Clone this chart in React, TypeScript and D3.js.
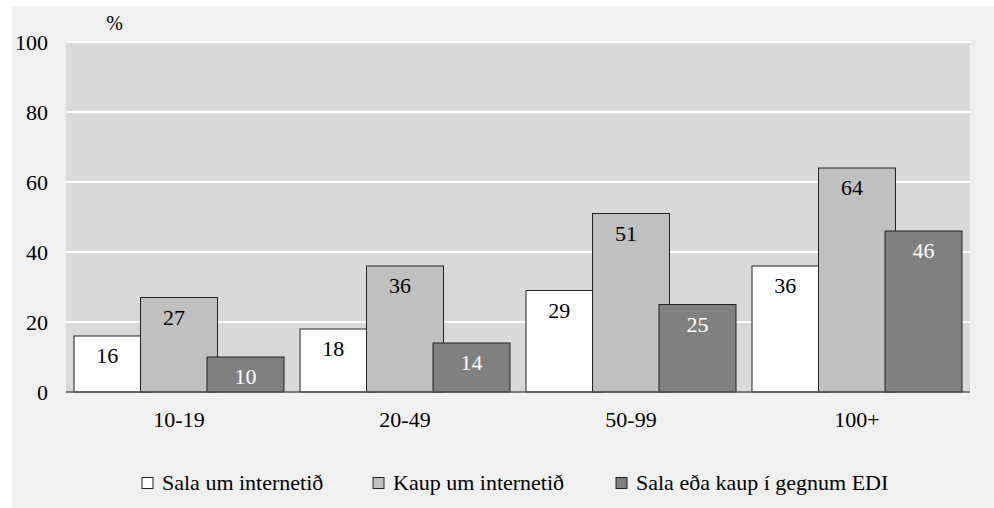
import React from "react";
import * as d3 from "d3";

const categories = ["10-19", "20-49", "50-99", "100+"];
const seriesNames = ["Sala um internetið", "Kaup um internetið", "Sala eða kaup í gegnum EDI"];
const salaInternet = [16, 18, 29, 36];
const kaupInternet = [27, 36, 51, 64];
const ediValues = [10, 14, 25, 46];
const yTicks = [0, 20, 40, 60, 80, 100];

const seriesValues = [salaInternet, kaupInternet, ediValues];
const fills = ["#ffffff", "#c0c0c0", "#808080"];
const labelColors = ["#000000", "#000000", "#ffffff"];

const W = 994;
const H = 508;
const plot = { left: 66, right: 970, top: 42, bottom: 392 };
const ts = { fontFamily: '"Liberation Serif", "Times New Roman", serif' };

export default function App() {
  const x = d3.scaleBand<string>().domain(categories).range([plot.left, plot.right]).paddingInner(0).paddingOuter(0);
  const y = d3.scaleLinear().domain([0, 100]).range([plot.bottom, plot.top]);
  const barW = 77;
  const step = 66.5;
  const groupW = 2 * step + barW;
  const legendX = [142, 373, 616];

  return (
    <svg width={W} height={H} style={{ position: "absolute", left: 0, top: 0 }}>
      <rect x={12} y={6} width={W - 12} height={H - 6} fill="#f0f0f0" />
      <rect x={plot.left} y={plot.top} width={plot.right - plot.left} height={plot.bottom - plot.top} fill="#d9d9d9" />
      {yTicks.filter((t) => t > 0).map((t) => (
        <line key={t} x1={plot.left} x2={plot.right} y1={y(t)} y2={y(t)} stroke="#ffffff" strokeWidth={2} />
      ))}
      {yTicks.map((t) => (
        <text key={t} style={ts} x={48} y={y(t)} dy="0.35em" textAnchor="end" fontSize={22} fill="#000">
          {t}
        </text>
      ))}
      <text style={ts} x={114.5} y={23} dy="0.35em" textAnchor="middle" fontSize={20} fill="#000">%</text>
      {categories.map((c, ci) => {
        const gx = (x(c) as number) + x.bandwidth() / 2 - groupW / 2;
        return (
          <g key={c}>
            {seriesValues.map((vals, si) => {
              const bx = gx + si * step;
              const by = y(vals[ci]);
              return (
                <g key={si}>
                  <rect x={bx} y={by} width={barW} height={plot.bottom - by} fill={fills[si]} stroke="#222" strokeWidth={1} />
                  <text style={ts} x={bx + (si === 1 ? barW / 2 - 5 : si === 0 ? step / 2 : barW / 2)} y={by + 27} textAnchor="middle" fontSize={22} fill={labelColors[si]}>
                    {vals[ci]}
                  </text>
                </g>
              );
            })}
            <text style={ts} x={(x(c) as number) + x.bandwidth() / 2} y={427} textAnchor="middle" fontSize={22} fill="#000">
              {c}
            </text>
          </g>
        );
      })}
      <line x1={plot.left} x2={plot.right} y1={plot.bottom} y2={plot.bottom} stroke="#555" strokeWidth={1.5} />
      {seriesNames.map((n, i) => (
        <g key={n}>
          <rect x={legendX[i]} y={477.5} width={11} height={11} fill={fills[i]} stroke="#222" strokeWidth={1} />
          <text style={ts} x={legendX[i] + 20} y={490} fontSize={22} fill="#000">{n}</text>
        </g>
      ))}
    </svg>
  );
}
